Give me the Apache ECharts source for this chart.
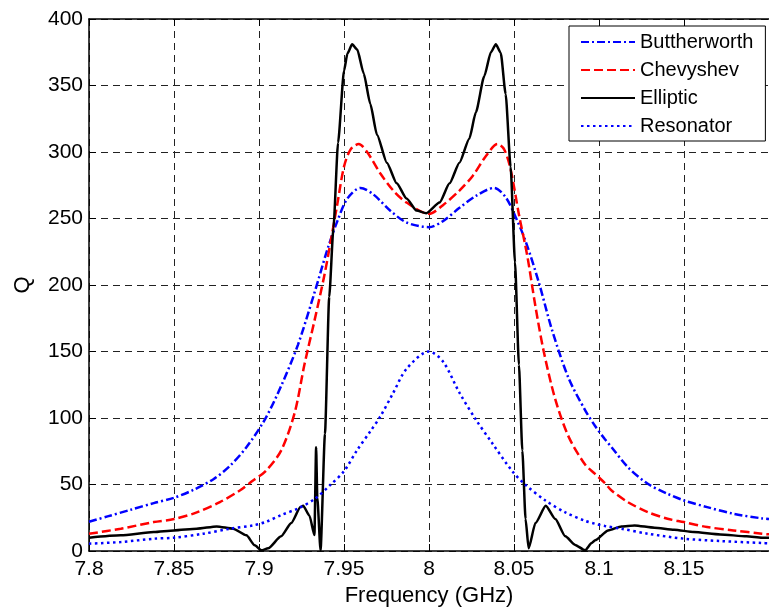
<!DOCTYPE html>
<html>
<head>
<meta charset="utf-8">
<script src="https://cdn.jsdelivr.net/npm/echarts@6/dist/echarts.min.js"></script>
<style>
html,body{margin:0;padding:0;background:#fff;}
#chart{width:769px;height:614px;}
</style>
</head>
<body>
<div id="chart"></div>
<script>
// ---- Data ----
var xTicks = [7.8, 7.85, 7.9, 7.95, 8, 8.05, 8.1, 8.15];
var yTicks = [0, 50, 100, 150, 200, 250, 300, 350, 400];

var butterF = [7.8, 7.8109, 7.8245, 7.8381, 7.85, 7.8615, 7.8732, 7.8829, 7.8926, 7.9035, 7.913, 7.9229, 7.9326, 7.9403, 7.9461, 7.952, 7.9597, 7.9674, 7.9771, 7.9868, 8.0, 8.0082, 8.0179, 8.0276, 8.0383, 8.0451, 8.051, 8.0568, 8.0646, 8.0724, 8.0821, 8.0918, 8.0977, 8.1035, 8.1074, 8.117, 8.1287, 8.1403, 8.15, 8.1636, 8.1791, 8.1959, 8.2];
var butterQ = [22, 26, 31, 36, 40, 46, 54, 64, 78, 99, 124, 155, 194, 227, 248, 265, 273, 268, 256, 247, 243.5, 248, 258, 267, 273, 266, 251, 233, 202, 166, 130, 106, 94, 84, 78, 63, 50.5, 43, 38, 33, 28, 24.5, 24];

var chebyF = [7.8, 7.8187, 7.8381, 7.85, 7.8634, 7.877, 7.8887, 7.8965, 7.9039, 7.913, 7.921, 7.9267, 7.9326, 7.9384, 7.9422, 7.9461, 7.95, 7.9539, 7.9587, 7.9636, 7.9713, 7.979, 7.9868, 8.0, 8.0082, 8.0179, 8.0257, 8.0335, 8.0403, 8.0442, 8.048, 8.0529, 8.0578, 8.0626, 8.0675, 8.0743, 8.0821, 8.0918, 8.0977, 8.1035, 8.1074, 8.117, 8.1287, 8.1403, 8.15, 8.1636, 8.1791, 8.1959, 8.2];
var chebyQ = [13, 16.75, 21.75, 24, 29, 36.75, 45.5, 53, 60, 75.5, 104, 140, 173, 207, 233, 261, 289, 302, 306, 300, 284, 271, 262, 253.5, 260, 271, 282, 297, 306, 302, 287, 253, 222, 184, 150, 114, 86, 65, 58, 51, 45.5, 36.75, 29.25, 24.25, 21.75, 18, 15.5, 13, 12.5];

var ellipF = [7.8, 7.8187, 7.8381, 7.85, 7.8634, 7.8751, 7.8848, 7.8926, 7.8975, 7.9014, 7.9054, 7.913, 7.919, 7.9244, 7.926, 7.9297, 7.9326, 7.9336, 7.9343, 7.9362, 7.9388, 7.9413, 7.9438, 7.9465, 7.95, 7.952, 7.9548, 7.9578, 7.9616, 7.9655, 7.9694, 7.9752, 7.981, 7.9868, 7.9926, 7.9984, 8.0062, 8.0121, 8.0179, 8.0237, 8.0276, 8.0325, 8.0364, 8.0393, 8.0422, 8.0451, 8.048, 8.0506, 8.0529, 8.0549, 8.0568, 8.0586, 8.0626, 8.0687, 8.0743, 8.0802, 8.086, 8.0918, 8.0957, 8.0977, 8.1054, 8.1132, 8.1209, 8.1326, 8.1442, 8.1558, 8.1713, 8.1868, 8.1959, 8.2];
var ellipQ = [10, 11.75, 14.25, 15.5, 16.75, 18.5, 16.75, 11.75, 4.25, 0.5, 2, 11, 21, 33, 34, 26.5, 12, 78, 40, 0.5, 88, 191, 243, 307, 361, 374, 381, 377, 359, 336, 313, 292, 276.5, 265, 256, 254, 262, 276.5, 292, 310, 330, 357, 375, 381, 374.5, 343.5, 289, 217, 140, 75.5, 24, 2, 21, 34, 24, 11, 4.6, 0.5, 6, 8, 15.5, 18.5, 19.25, 17.5, 16, 14.25, 12.5, 11, 10, 10];

var resonF = [7.8, 7.8187, 7.8381, 7.85, 7.8673, 7.8829, 7.8965, 7.9043, 7.913, 7.9229, 7.9326, 7.9422, 7.95, 7.9578, 7.9655, 7.9713, 7.979, 7.9868, 8.0, 8.0082, 8.0179, 8.0276, 8.0374, 8.049, 8.0568, 8.0685, 8.0802, 8.0918, 8.0977, 8.1035, 8.1132, 8.1287, 8.15, 8.1713, 8.1959, 8.2];
var resonQ = [5.5, 6.75, 9.25, 10, 13, 16.75, 19.25, 22, 27, 32, 39, 50, 60, 76, 90, 101, 119, 137, 150, 142.5, 119, 98.7, 80.7, 60, 49.7, 38, 29, 22.7, 20.5, 18.8, 16.75, 13, 9.25, 7.5, 6, 5.8];

var seriesNames = ['Buttherworth', 'Chevyshev', 'Elliptic', 'Resonator'];

function pairs(xs, ys) { return xs.map(function (x, i) { return [x, ys[i]]; }); }

var FONT = '"Liberation Sans", Arial, sans-serif';
var chart = echarts.init(document.getElementById('chart'), null, {renderer: 'canvas'});

var gridLine = {show: true, lineStyle: {color: '#222', width: 1, type: [7, 5]}};

var option = {
  animation: false,
  backgroundColor: '#fff',
  grid: {left: 89, top: 19, right: -6, bottom: 63, containLabel: false},
  legend: {
    orient: 'vertical',
    left: 569, top: 26,
    data: seriesNames,
    backgroundColor: '#fff',
    borderColor: '#000', borderWidth: 1,
    padding: [6, 12, 5, 11],
    itemWidth: 54, itemHeight: 14, itemGap: 8,
    itemStyle: {opacity: 0},
    textStyle: {fontFamily: FONT, fontSize: 20, color: '#000', lineHeight: 20},
    selectedMode: false
  },
  xAxis: [{
    type: 'value', min: 7.8, max: 8.2, interval: 0.05,
    name: 'Frequency (GHz)', nameLocation: 'middle', nameGap: 33,
    nameTextStyle: {fontFamily: FONT, fontSize: 22, color: '#000'},
    axisLine: {show: true, onZero: false, lineStyle: {color: '#000', width: 1.5}},
    axisTick: {show: true, inside: true, length: 7, lineStyle: {color: '#000', width: 1}},
    axisLabel: {fontFamily: FONT, fontSize: 21, color: '#000', margin: 8, showMaxLabel: false,
      formatter: function (v) { var r = Math.round(v * 100) / 100; return xTicks.indexOf(r) >= 0 ? String(r) : ''; }},
    splitLine: gridLine
  }, {
    type: 'value', min: 7.8, max: 8.2, interval: 0.05, position: 'top',
    axisLine: {show: true, onZero: false, lineStyle: {color: '#000', width: 1.5}},
    axisTick: {show: true, inside: true, length: 7, lineStyle: {color: '#000', width: 1}},
    axisLabel: {show: false}, splitLine: {show: false}
  }],
  yAxis: [{
    type: 'value', min: 0, max: 400, interval: 50,
    name: 'Q', nameLocation: 'middle', nameGap: 55,
    nameTextStyle: {fontFamily: FONT, fontSize: 22, color: '#000'},
    axisLine: {show: true, onZero: false, lineStyle: {color: '#000', width: 1.5}},
    axisTick: {show: true, inside: true, length: 7, lineStyle: {color: '#000', width: 1}},
    axisLabel: {fontFamily: FONT, fontSize: 21, color: '#000', margin: 6,
      formatter: function (v) { return yTicks.indexOf(v) >= 0 ? String(v) : ''; }},
    splitLine: gridLine
  }],
  series: [
    {name: seriesNames[0], type: 'line', data: pairs(butterF, butterQ), showSymbol: false, symbol: 'none', smooth: 0.3,
     lineStyle: {color: '#0000ff', width: 2.5, type: [8, 3, 2, 3]}, itemStyle: {color: '#0000ff'}},
    {name: seriesNames[1], type: 'line', data: pairs(chebyF, chebyQ), showSymbol: false, symbol: 'none', smooth: 0.3,
     lineStyle: {color: '#ff0000', width: 2.5, type: [9, 4]}, itemStyle: {color: '#ff0000'}},
    {name: seriesNames[2], type: 'line', data: pairs(ellipF, ellipQ), showSymbol: false, symbol: 'none', smooth: 0.2, smoothMonotone: 'x',
     lineStyle: {color: '#000000', width: 2.5, type: 'solid'}, itemStyle: {color: '#000000'}},
    {name: seriesNames[3], type: 'line', data: pairs(resonF, resonQ), showSymbol: false, symbol: 'none', smooth: 0.3,
     lineStyle: {color: '#0000ff', width: 2.5, type: [2.5, 3.5]}, itemStyle: {color: '#0000ff'}}
  ]
};
chart.setOption(option);
</script>
</body>
</html>
